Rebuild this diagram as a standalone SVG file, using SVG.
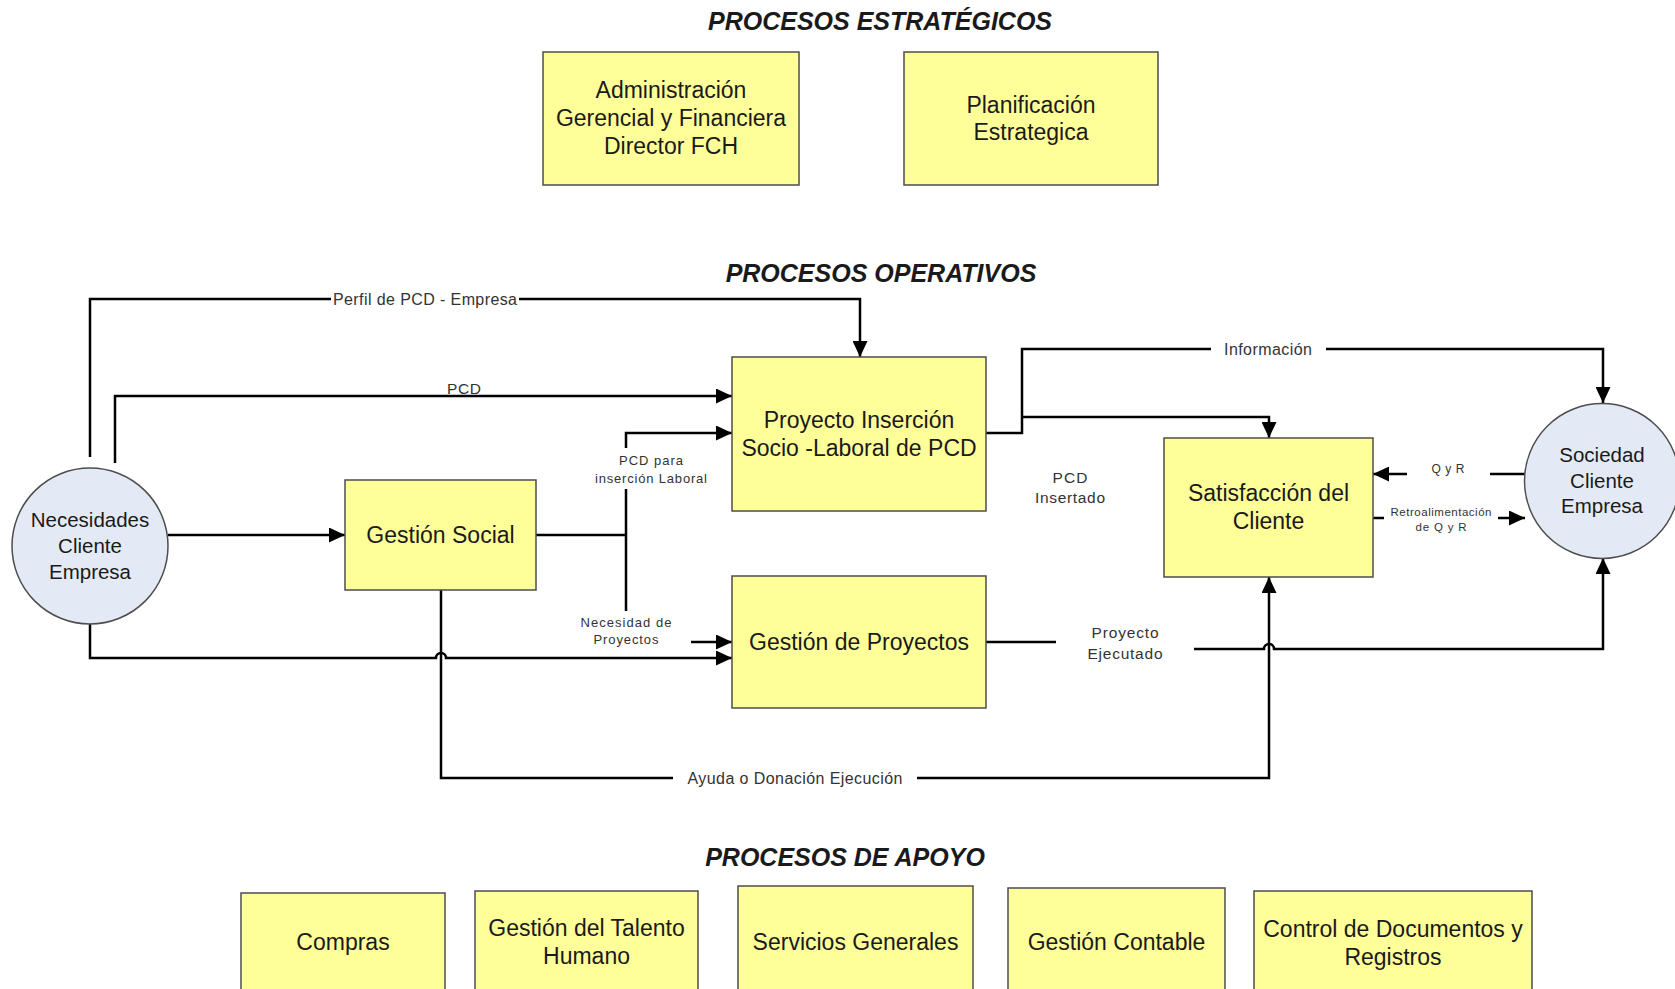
<svg xmlns="http://www.w3.org/2000/svg" width="1675" height="989" viewBox="0 0 1675 989">
  <defs>
    <marker id="arrow" markerUnits="userSpaceOnUse" markerWidth="17" markerHeight="15" refX="16" refY="7.5" orient="auto">
      <path d="M0,0 L16,7.5 L0,15 z" fill="#000"/>
    </marker>
    <style>
      .title { font-family: "Liberation Sans", Arial, sans-serif; font-size: 25px; font-weight: bold; font-style: italic; fill: #1a1a1a; text-anchor: middle; }
      .box { fill: #ffff99; stroke: #4d4d4d; stroke-width: 1.5; }
      .ent { fill: #e4eaf5; stroke: #4d4d4d; stroke-width: 1.5; }
      .bt { font-family: "Liberation Sans", Arial, sans-serif; font-size: 23px; fill: #1a1a1a; text-anchor: middle; }
      .ct { font-family: "Liberation Sans", Arial, sans-serif; font-size: 20.5px; fill: #1a1a1a; text-anchor: middle; }
      .wire { fill: none; stroke: #000; stroke-width: 2.5; }
      .arr { marker-end: url(#arrow); }
      .bg { fill: #fff; }
      .lbl { font-family: "Liberation Sans", Arial, sans-serif; fill: #333; text-anchor: middle; }
    </style>
  </defs>
  <rect width="1675" height="989" fill="#fff"/>

  <!-- section titles -->
  <text class="title" x="880" y="30">PROCESOS ESTRATÉGICOS</text>
  <text class="title" x="881" y="282">PROCESOS OPERATIVOS</text>
  <text class="title" x="845" y="866">PROCESOS DE APOYO</text>

  <!-- strategic processes -->
  <g id="administracion">
    <rect class="box" x="543" y="52" width="256" height="133"/>
    <text class="bt" x="671" y="98">Administración</text>
    <text class="bt" x="671" y="126">Gerencial y Financiera</text>
    <text class="bt" x="671" y="154">Director FCH</text>
  </g>
  <g id="planificacion">
    <rect class="box" x="904" y="52" width="254" height="133"/>
    <text class="bt" x="1031" y="112.5">Planificación</text>
    <text class="bt" x="1031" y="140">Estrategica</text>
  </g>

  <!-- connectors -->
  <g id="connectors">
    <path class="wire arr" d="M90 457 V299 H860 V357"/>
    <path class="wire arr" d="M115 463 V396 H732"/>
    <path class="wire arr" d="M168 535 H345"/>
    <path class="wire arr" d="M90 612 V658 H436 A5 5 0 0 1 446 658 H732"/>
    <path class="wire" d="M536 535 H626"/>
    <path class="wire arr" d="M626 535 V433 H732"/>
    <path class="wire arr" d="M626 535 V642 H732"/>
    <path class="wire arr" d="M441 590 V778 H1269 V577"/>
    <path class="wire arr" d="M986 433 H1022 V349 H1603 V403"/>
    <path class="wire arr" d="M1022 417 H1269 V438"/>
    <path class="wire arr" d="M986 642 H1125 V649 H1264 A5 5 0 0 1 1274 649 H1603 V558"/>
    <path class="wire arr" d="M1525 474 H1373"/>
    <path class="wire arr" d="M1373 518 H1525"/>

    <!-- connector labels -->
    <rect class="bg" x="331" y="290" width="188" height="18"/>
    <text class="lbl" x="425" y="304.5" font-size="16" textLength="184" lengthAdjust="spacing">Perfil de PCD - Empresa</text>

    <text class="lbl" x="464" y="393.5" font-size="15.5" textLength="34" lengthAdjust="spacing">PCD</text>

    <rect class="bg" x="594" y="448" width="114" height="41"/>
    <text class="lbl" x="651" y="464.5" font-size="13" textLength="64" lengthAdjust="spacing">PCD para</text>
    <text class="lbl" x="651" y="482.5" font-size="13" textLength="112" lengthAdjust="spacing">inserción Laboral</text>

    <rect class="bg" x="575" y="611" width="116" height="39"/>
    <text class="lbl" x="626" y="626.5" font-size="13" textLength="91" lengthAdjust="spacing">Necesidad de</text>
    <text class="lbl" x="626" y="643.5" font-size="13" textLength="65" lengthAdjust="spacing">Proyectos</text>

    <text class="lbl" x="1070" y="482.5" font-size="15.5" textLength="35" lengthAdjust="spacing">PCD</text>
    <text class="lbl" x="1070" y="502.5" font-size="15.5" textLength="70" lengthAdjust="spacing">Insertado</text>

    <rect class="bg" x="1211" y="339" width="115" height="20"/>
    <text class="lbl" x="1268" y="354.5" font-size="16" textLength="88" lengthAdjust="spacing">Información</text>

    <rect class="bg" x="1407" y="462" width="83" height="20"/>
    <text class="lbl" x="1448" y="473" font-size="12" textLength="33" lengthAdjust="spacing">Q y R</text>

    <rect class="bg" x="1384" y="503" width="114" height="32"/>
    <text class="lbl" x="1441" y="516" font-size="11.5" textLength="101" lengthAdjust="spacing">Retroalimentación</text>
    <text class="lbl" x="1441" y="531" font-size="11.5" textLength="51" lengthAdjust="spacing">de Q y R</text>

    <rect class="bg" x="1056" y="618" width="138" height="46"/>
    <text class="lbl" x="1125" y="638" font-size="15.5" textLength="67" lengthAdjust="spacing">Proyecto</text>
    <text class="lbl" x="1125" y="659" font-size="15.5" textLength="75" lengthAdjust="spacing">Ejecutado</text>

    <rect class="bg" x="673" y="768" width="244" height="20"/>
    <text class="lbl" x="795" y="784" font-size="16" textLength="215" lengthAdjust="spacing">Ayuda o Donación Ejecución</text>
  </g>

  <!-- operative processes -->
  <g id="necesidades">
    <circle class="ent" cx="90" cy="546" r="78"/>
    <text class="ct" x="90" y="527">Necesidades</text>
    <text class="ct" x="90" y="553">Cliente</text>
    <text class="ct" x="90" y="579">Empresa</text>
  </g>
  <g id="gestion-social">
    <rect class="box" x="345" y="480" width="191" height="110"/>
    <text class="bt" x="440.5" y="543">Gestión Social</text>
  </g>
  <g id="proyecto-insercion">
    <rect class="box" x="732" y="357" width="254" height="154"/>
    <text class="bt" x="859" y="428">Proyecto Inserción</text>
    <text class="bt" x="859" y="456">Socio -Laboral de PCD</text>
  </g>
  <g id="gestion-proyectos">
    <rect class="box" x="732" y="576" width="254" height="132"/>
    <text class="bt" x="859" y="650">Gestión de Proyectos</text>
  </g>
  <g id="satisfaccion">
    <rect class="box" x="1164" y="438" width="209" height="139"/>
    <text class="bt" x="1268.5" y="501">Satisfacción del</text>
    <text class="bt" x="1268.5" y="529">Cliente</text>
  </g>
  <g id="sociedad">
    <circle class="ent" cx="1602" cy="481" r="77.5"/>
    <text class="ct" x="1602" y="462">Sociedad</text>
    <text class="ct" x="1602" y="488">Cliente</text>
    <text class="ct" x="1602" y="513">Empresa</text>
  </g>

  <!-- support processes -->
  <g id="compras">
    <rect class="box" x="241" y="893" width="204" height="110"/>
    <text class="bt" x="343" y="950">Compras</text>
  </g>
  <g id="talento-humano">
    <rect class="box" x="475" y="891" width="223" height="112"/>
    <text class="bt" x="586.5" y="936">Gestión del Talento</text>
    <text class="bt" x="586.5" y="964">Humano</text>
  </g>
  <g id="servicios-generales">
    <rect class="box" x="738" y="886" width="235" height="117"/>
    <text class="bt" x="855.5" y="950">Servicios Generales</text>
  </g>
  <g id="gestion-contable">
    <rect class="box" x="1008" y="888" width="217" height="115"/>
    <text class="bt" x="1116.5" y="950">Gestión Contable</text>
  </g>
  <g id="control-documentos">
    <rect class="box" x="1254" y="891" width="278" height="112"/>
    <text class="bt" x="1393" y="937">Control de Documentos y</text>
    <text class="bt" x="1393" y="965">Registros</text>
  </g>
</svg>
